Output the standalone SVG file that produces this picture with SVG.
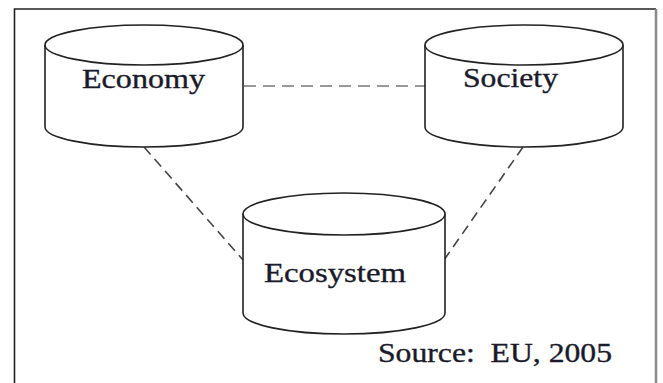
<svg xmlns="http://www.w3.org/2000/svg" width="663" height="383" viewBox="0 0 663 383">
<style>
.cyl{fill:#fff;stroke:#222;stroke-width:1.6}
.lbl{font-family:"Liberation Serif",serif;font-size:27px;fill:#1a1a2a;stroke:#1a1a2a;stroke-width:0.35;white-space:pre}
.dash{fill:none;stroke:#444;stroke-width:1.6;stroke-dasharray:10 6}
.dashh{fill:none;stroke:#999;stroke-width:2.2;stroke-dasharray:12 7}
</style>
<rect width="663" height="383" fill="#fff"/>
<g id="frame">
<path d="M14.5 383 V9 H656" fill="none" stroke="#222" stroke-width="1.6"/>
<path d="M656 9 V383" fill="none" stroke="#888" stroke-width="2.5"/>
</g>
<g id="connectors">
<line class="dashh" x1="244" y1="86" x2="425" y2="86"/>
<line class="dash" x1="144" y1="147" x2="243" y2="260"/>
<line class="dash" x1="523" y1="147" x2="444" y2="260"/>
</g>
<g id="economy">
<path class="cyl" d="M45 45 V127 A99 20 0 0 0 243 127 V45"/>
<ellipse class="cyl" cx="144" cy="45" rx="99" ry="20"/>
<text class="lbl" x="82" y="88" textLength="123" lengthAdjust="spacingAndGlyphs">Economy</text>
</g>
<g id="society">
<path class="cyl" d="M425 45 V127 A99 20 0 0 0 623 127 V45"/>
<ellipse class="cyl" cx="524" cy="45" rx="99" ry="20"/>
<text class="lbl" x="463" y="87" textLength="95" lengthAdjust="spacingAndGlyphs">Society</text>
</g>
<g id="ecosystem">
<path class="cyl" d="M243 214 V313 A101 21 0 0 0 445 313 V214"/>
<ellipse class="cyl" cx="344" cy="214" rx="101" ry="21"/>
<text class="lbl" x="264" y="282" textLength="142" lengthAdjust="spacingAndGlyphs">Ecosystem</text>
</g>
<text class="lbl" x="378" y="362" textLength="234" lengthAdjust="spacingAndGlyphs" xml:space="preserve">Source:  EU, 2005</text>
</svg>
